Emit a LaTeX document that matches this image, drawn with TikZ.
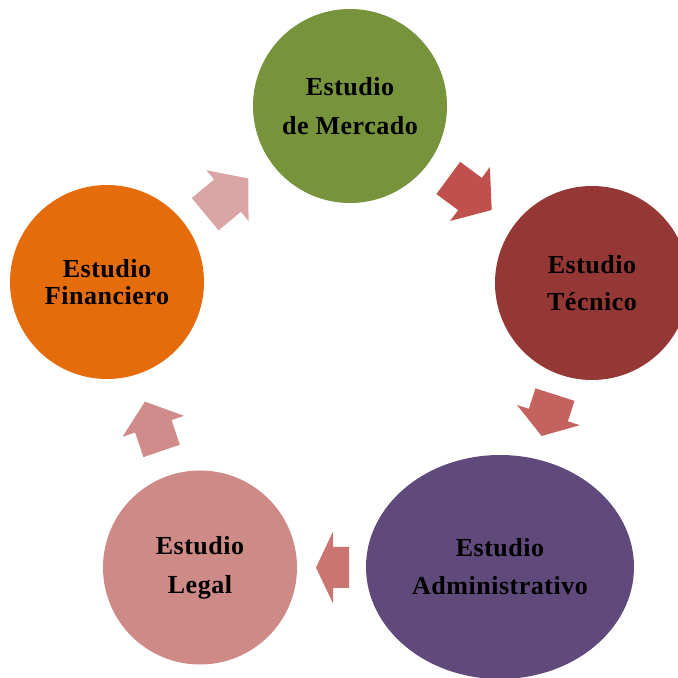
\documentclass[tikz,border=0pt]{standalone}
\usepackage{fontspec}
\setmainfont{Liberation Serif}[LetterSpace=2]
\usetikzlibrary{shapes.geometric}
\definecolor{cmerc}{HTML}{77933C}
\definecolor{ctec}{HTML}{953735}
\definecolor{cadm}{HTML}{604A7B}
\definecolor{cleg}{HTML}{CD8A87}
\definecolor{cfin}{HTML}{E46C0A}
\definecolor{aone}{HTML}{C0504D}
\definecolor{atwo}{HTML}{C4625F}
\definecolor{athree}{HTML}{CA7572}
\definecolor{afour}{HTML}{CF8C8A}
\definecolor{afive}{HTML}{D9A5A5}
\tikzset{
  stage/.style={circle, fill=#1, minimum size=194pt, inner sep=0pt, align=center,
    font=\fontsize{26}{26}\selectfont\bfseries, text=black},
}
\newcommand{\blkarrow}[8]{%
  \fill[#8, shift={(#1,#2)}, rotate=#3]
    (-#4/2, -#5/2) -- (#4/2-#7, -#5/2) -- (#4/2-#7, -#6/2) -- (#4/2, 0)
    -- (#4/2-#7, #6/2) -- (#4/2-#7, #5/2) -- (-#4/2, #5/2) -- cycle;}
\begin{document}
\begin{tikzpicture}[x=1pt,y=1pt]
\clip (0,0) rectangle (678,678);
\fill[white] (0,0) rectangle (678,678);
\node[stage=cmerc] (merc) at (350,572) {Estudio\\[13pt]de Mercado};
\node[stage=ctec] (tec) at (592,395) {Estudio\\[11pt]Técnico};
\node[stage=cadm, ellipse, minimum width=268pt, minimum height=224pt] (adm) at (500,111) {Estudio\\[12pt]Administrativo};
\node[stage=cleg] (leg) at (200,110.5) {Estudio\\[13pt]Legal};
\node[stage=cfin] (fin) at (107,396) {Estudio\\[1pt]Financiero};
\blkarrow{470}{484}{-36.4}{54}{40}{67}{27}{aone}
\blkarrow{548.3}{262.7}{-107.8}{43.5}{41}{66}{22}{atwo}
\blkarrow{332.5}{110.5}{180}{33}{41}{72}{17}{athree}
\blkarrow{153.3}{251.7}{108.8}{52}{38.5}{65}{26}{afour}
\blkarrow{226.7}{481.7}{39.7}{56}{42}{66}{27}{afive}
\end{tikzpicture}
\end{document}
